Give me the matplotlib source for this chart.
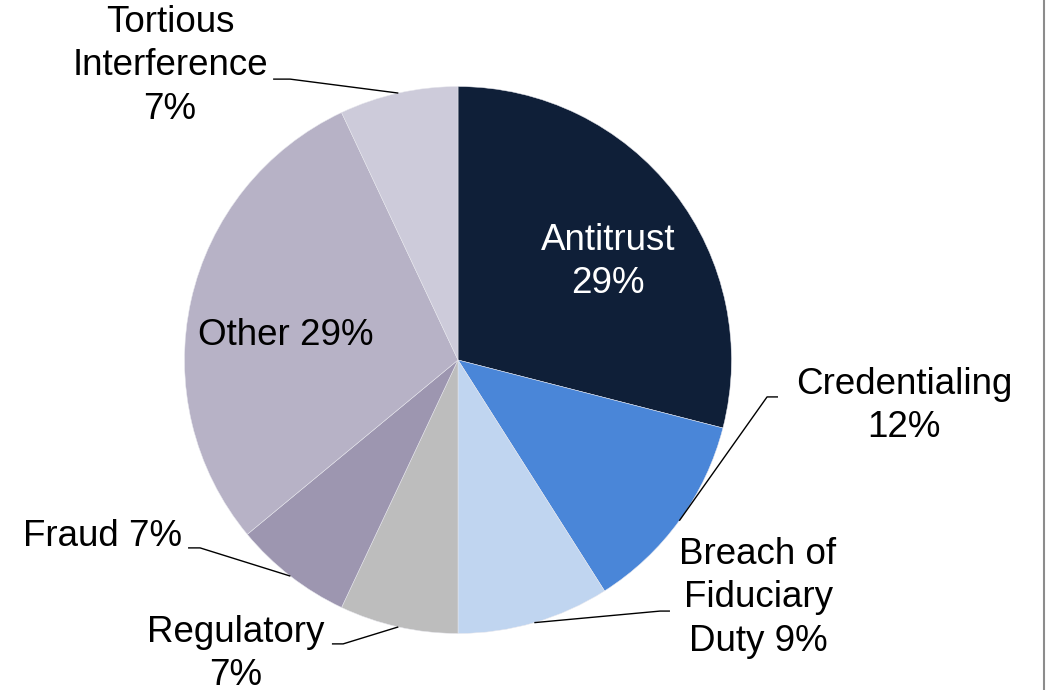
import numpy as np
import matplotlib
matplotlib.use("Agg")
from matplotlib import pyplot as plt
from matplotlib.lines import Line2D

# Data ########################################################################
categories = ["Antitrust", "Credentialing", "Breach of\nFiduciary\nDuty",
              "Regulatory", "Fraud", "Other", "Tortious\nInterference"]
shares = [29, 12, 9, 7, 7, 29, 7]
colors = ["#0f1f38", "#4a86d8", "#c0d5f0", "#bdbdbd", "#9d96b0", "#b7b2c6", "#cdcbda"]
label_text = ["Antitrust\n29%", "Credentialing\n12%", "Breach of\nFiduciary\nDuty 9%",
              "Regulatory\n7%", "Fraud 7%", "Other 29%", "Tortious\nInterference\n7%"]

# Layout (data units, pie radius = 1) ##########################################
label_pos = [(0.548, 0.358), (1.631, -0.168), (1.097, -0.870), (-0.812, -1.075),
             (-1.298, -0.647), (-0.629, 0.088), (-1.053, 1.075)]
# leader start (text side) and elbow; None = no leader
leader_pts = [None,
              ((1.170, -0.135), (1.130, -0.135)),
              ((0.775, -0.918), (0.739, -0.918)),
              ((-0.461, -1.038), (-0.420, -1.038)),
              ((-0.987, -0.687), (-0.943, -0.687)),
              None,
              ((-0.676, 1.027), (-0.614, 1.027))]
text_colors = ["white", "black", "black", "black", "black", "black", "black"]

plt.rcParams['font.family'] = ['Liberation Sans', 'DejaVu Sans']

fig = plt.figure(figsize=(10.46, 6.9), dpi=100)
ax = fig.add_axes([0, 0, 1, 1])

wedges, _ = ax.pie(shares, colors=colors, startangle=90, counterclock=False,
                   radius=1, wedgeprops=dict(edgecolor="#e8e8ee", linewidth=0.35))

# leader lines to wedge mid-angles on the rim
for w, pts in zip(wedges, leader_pts):
    if pts is None:
        continue
    mid = np.deg2rad((w.theta1 + w.theta2) / 2)
    end = (np.cos(mid), np.sin(mid))
    xs = [pts[0][0], pts[1][0], end[0]]
    ys = [pts[0][1], pts[1][1], end[1]]
    ax.plot(xs, ys, color="black", lw=1.0, solid_capstyle="butt")

for txt, (x, y), c in zip(label_text, label_pos, text_colors):
    ax.text(x, y, txt, ha="center", va="center", fontsize=26.5, color=c,
            linespacing=1.3)

ax.set_aspect("auto")
ax.set_xlim(-458 / 273.5, (1046 - 458) / 273.5)
ax.set_ylim((360 - 690) / 273.5, 360 / 273.5)
ax.axis("off")

# grey frame edge on the right
fig.add_artist(Line2D([0.998, 0.998], [0, 1], transform=fig.transFigure,
                      color="#8c8c8c", lw=1.5))

fig.savefig("out.png", dpi=100, facecolor="white")
